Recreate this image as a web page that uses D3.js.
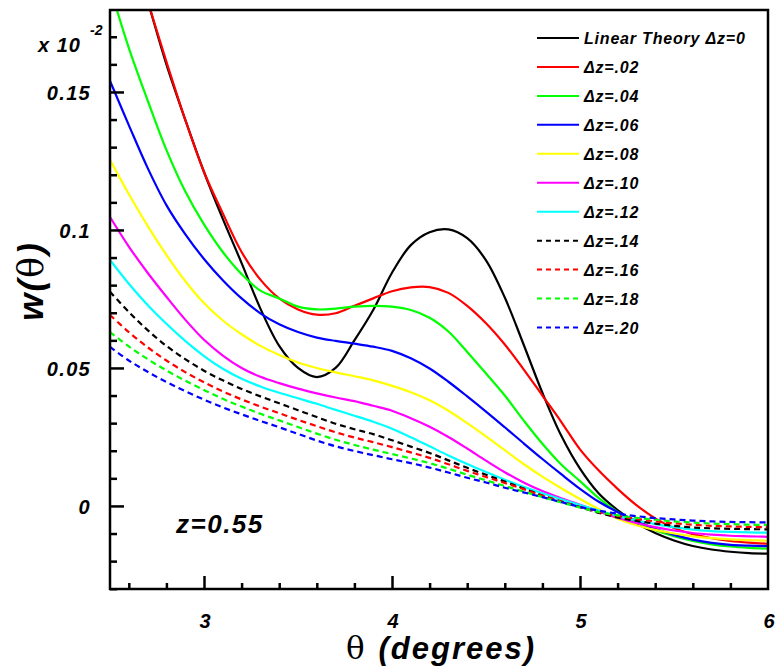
<!DOCTYPE html>
<html>
<head>
<meta charset="utf-8">
<script src="https://cdn.jsdelivr.net/npm/d3@7"></script>
<style>
    body { margin: 0; background: #fff; }
    svg { display: block; }
    text { font-family: "Liberation Sans", Arial, sans-serif; }
</style>
</head>
<body>
<div id="chart"></div>
<script>

// theta grid (degrees)
var theta = [2.5, 2.6, 2.7, 2.8, 2.9, 3.0, 3.1, 3.2, 3.3, 3.4, 3.5, 3.6, 3.7, 3.8, 3.9, 4.0,
    4.1, 4.2, 4.3, 4.4, 4.5, 4.6, 4.7, 4.8, 4.9, 5.0, 5.1, 5.2, 5.3, 5.4, 5.5, 5.6, 5.7, 5.8, 5.9, 6.0];

// w(theta) values, units of 10^-2
var linear = [0.235, 0.205, 0.183, 0.160, 0.140, 0.121, 0.104, 0.088, 0.0715, 0.058, 0.050, 0.0467, 0.050,
    0.060, 0.071, 0.0845, 0.0945, 0.0992, 0.1002, 0.097, 0.089, 0.0755, 0.0585, 0.041, 0.0255, 0.0135,
    0.0045, -0.0015, -0.0062, -0.0098, -0.0125, -0.0145, -0.0158, -0.0166, -0.0171, -0.0173];
var dz02 = [0.235, 0.205, 0.183, 0.161, 0.140, 0.121, 0.106, 0.092, 0.082, 0.0752, 0.0712, 0.0693, 0.0698,
    0.0725, 0.0752, 0.0778, 0.0792, 0.0793, 0.0772, 0.0725, 0.0662, 0.0585, 0.0495, 0.040, 0.0305, 0.0205,
    0.0128, 0.0062, 0.0003, -0.0045, -0.0080, -0.0102, -0.0117, -0.0127, -0.0133, -0.0137];
var dz04 = [0.188, 0.166, 0.147, 0.129, 0.114, 0.102, 0.092, 0.084, 0.078, 0.0752, 0.0722, 0.0712, 0.0715,
    0.0722, 0.0725, 0.0722, 0.0710, 0.0682, 0.0632, 0.0558, 0.048, 0.040, 0.031, 0.0225, 0.015, 0.009,
    0.0028, -0.0022, -0.006, -0.0088, -0.011, -0.0127, -0.0139, -0.0147, -0.0152, -0.0155];
var dz06 = [0.154, 0.138, 0.1225, 0.109, 0.0985, 0.0895, 0.0818, 0.0752, 0.0698, 0.0658, 0.0630, 0.0610, 0.0598,
    0.0588, 0.0577, 0.0562, 0.0535, 0.0498, 0.0450, 0.0397, 0.0342, 0.0285, 0.0227, 0.0170, 0.0115, 0.0062,
    0.0015, -0.0022, -0.0055, -0.0083, -0.0105, -0.0122, -0.0134, -0.0141, -0.0144, -0.0146];
var dz08 = [0.1254, 0.1130, 0.1015, 0.091, 0.0815, 0.0735, 0.0672, 0.0622, 0.0580, 0.0547, 0.0520, 0.0500, 0.0484,
    0.0470, 0.0455, 0.0435, 0.0412, 0.0383, 0.0345, 0.0300, 0.0252, 0.0202, 0.0152, 0.0106, 0.0064, 0.0025,
    -0.0012, -0.0046, -0.0070, -0.0087, -0.0100, -0.0110, -0.0117, -0.0121, -0.0124, -0.0126];
var dz10 = [0.1047, 0.094, 0.0845, 0.0758, 0.0675, 0.0602, 0.0545, 0.0500, 0.0468, 0.0445, 0.0425, 0.0408, 0.0393,
    0.038, 0.0363, 0.0345, 0.0318, 0.0287, 0.025, 0.0208, 0.0164, 0.0122, 0.0085, 0.0054, 0.0028, 0.0004,
    -0.0020, -0.0043, -0.0062, -0.0077, -0.0089, -0.0098, -0.0104, -0.0108, -0.011, -0.0112];
var dz12 = [0.0891, 0.0805, 0.0728, 0.066, 0.0598, 0.0543, 0.0497, 0.0461, 0.0433, 0.041, 0.039, 0.037, 0.0348,
    0.0327, 0.0305, 0.028, 0.0249, 0.0216, 0.0183, 0.0152, 0.0123, 0.0095, 0.0069, 0.0046, 0.0024, 0.0003,
    -0.0017, -0.0036, -0.0052, -0.0066, -0.0077, -0.0086, -0.0091, -0.0094, -0.0096, -0.0097];
var dz14 = [0.0776, 0.0703, 0.0637, 0.0580, 0.0532, 0.0490, 0.0455, 0.0424, 0.0397, 0.0372, 0.0347, 0.0322, 0.0298,
    0.0278, 0.026, 0.0238, 0.0215, 0.0192, 0.0165, 0.0138, 0.0113, 0.0088, 0.0063, 0.0038, 0.0016, -0.0004,
    -0.0025, -0.0042, -0.0054, -0.0064, -0.0072, -0.0078, -0.0081, -0.0083, -0.0084, -0.0085];
var dz16 = [0.0692, 0.063, 0.0575, 0.0527, 0.0485, 0.0448, 0.0415, 0.0386, 0.036, 0.0336, 0.0312, 0.0289, 0.0267,
    0.0248, 0.0231, 0.0213, 0.0194, 0.0174, 0.0151, 0.0127, 0.0105, 0.0083, 0.0061, 0.0037, 0.0016, -0.0004,
    -0.0022, -0.0036, -0.0047, -0.0056, -0.0063, -0.0068, -0.0072, -0.0074, -0.0076, -0.0077];
var dz18 = [0.063, 0.0578, 0.0532, 0.0491, 0.0454, 0.0420, 0.0388, 0.036, 0.0334, 0.031, 0.0286, 0.0262, 0.024,
    0.0221, 0.0204, 0.0188, 0.0172, 0.0155, 0.0135, 0.0113, 0.0093, 0.0072, 0.0052, 0.0032, 0.0013, -0.0006,
    -0.0022, -0.0034, -0.0043, -0.0050, -0.0056, -0.006, -0.0064, -0.0066, -0.0068, -0.0069];
var dz20 = [0.0576, 0.0527, 0.0486, 0.0449, 0.0416, 0.0385, 0.0357, 0.0332, 0.0308, 0.0285, 0.0261, 0.0237, 0.0216,
    0.0199, 0.0184, 0.0169, 0.0155, 0.0139, 0.0121, 0.0102, 0.0085, 0.0066, 0.0049, 0.0032, 0.0014, -0.0004,
    -0.0017, -0.0028, -0.0037, -0.0044, -0.0049, -0.0053, -0.0056, -0.0058, -0.0059, -0.006];

var seriesNames = ["Linear Theory \u0394z=0", "\u0394z=.02", "\u0394z=.04", "\u0394z=.06", "\u0394z=.08", "\u0394z=.10",
    "\u0394z=.12", "\u0394z=.14", "\u0394z=.16", "\u0394z=.18", "\u0394z=.20"];
var seriesValues = [linear, dz02, dz04, dz06, dz08, dz10, dz12, dz14, dz16, dz18, dz20];
var seriesColors = ["#000000", "#ff0000", "#00ff00", "#0000ff", "#ffff00", "#ff00ff",
    "#00ffff", "#000000", "#ff0000", "#00ff00", "#0000ff"];
var seriesDashed = [false, false, false, false, false, false, false, true, true, true, true];

var xMajor = [3, 4, 5, 6];
var yMajor = [0, 0.05, 0.1, 0.15];


var width = 775,
    height = 670;

var svg = d3.select("#chart").append("svg")
    .attr("width", width)
    .attr("height", height);

var x = d3.scaleLinear().domain([2.5, 6]).range([110, 768]);
var y = d3.scaleLinear().domain([-0.0301, 0.1797]).range([589, 10]);

svg.append("clipPath")
    .attr("id", "plot-clip")
    .append("rect")
    .attr("x", x.range()[0])
    .attr("y", y.range()[1])
    .attr("width", x.range()[1] - x.range()[0])
    .attr("height", y.range()[0] - y.range()[1]);

var series = seriesNames.map(function(name, i) {
    return {
        name: name,
        color: seriesColors[i],
        dashed: seriesDashed[i],
        points: theta.map(function(t, j) { return [t, seriesValues[i][j]]; })
    };
});

var line = d3.line()
    .x(function(d) { return x(d[0]); })
    .y(function(d) { return y(d[1]); })
    .curve(d3.curveCatmullRom);

svg.append("g")
    .attr("clip-path", "url(#plot-clip)")
    .selectAll("path")
    .data(series)
    .enter()
    .append("path")
    .attr("d", function(d) { return line(d.points); })
    .attr("fill", "none")
    .attr("stroke", function(d) { return d.color; })
    .attr("stroke-width", 2.2)
    .attr("stroke-dasharray", function(d) { return d.dashed ? "6,4" : null; });

// frame
svg.append("rect")
    .attr("x", x.range()[0])
    .attr("y", y.range()[1])
    .attr("width", x.range()[1] - x.range()[0])
    .attr("height", y.range()[0] - y.range()[1])
    .attr("fill", "none")
    .attr("stroke", "#000")
    .attr("stroke-width", 2.5);

// y axis, ticks point inward
var yAxis = d3.axisRight(y)
    .tickValues(d3.range(-0.03, 0.1701, 0.01).map(function(v) { return Math.round(v * 100) / 100; }))
    .tickSize(7)
    .tickFormat("");

var gy = svg.append("g")
    .attr("transform", "translate(" + x.range()[0] + ",0)")
    .call(yAxis);
gy.select(".domain").remove();
gy.selectAll(".tick line")
    .attr("stroke-width", 2.5)
    .attr("x2", function(d) {
        return yMajor.indexOf(d) >= 0 ? 14 : 7;
    });

var tickFont = "italic bold 20px 'Liberation Sans'";

svg.append("g")
    .selectAll("text")
    .data(yMajor)
    .enter()
    .append("text")
    .attr("x", 91)
    .attr("y", function(d) { return y(d) + 8; })
    .attr("text-anchor", "end")
    .style("font", tickFont)
    .style("letter-spacing", "1.3px")
    .text(function(d) { return d; });

// x axis, ticks point inward
var xAxis = d3.axisTop(x)
    .tickValues(d3.range(2.6, 5.81, 0.2).map(function(v) { return Math.round(v * 10) / 10; }))
    .tickSize(6)
    .tickFormat("");

var gx = svg.append("g")
    .attr("transform", "translate(0," + y.range()[0] + ")")
    .call(xAxis);
gx.select(".domain").remove();
gx.selectAll(".tick line")
    .attr("stroke-width", 2.5)
    .attr("y2", function(d) {
        return xMajor.indexOf(d) >= 0 ? -13 : -6;
    });

svg.append("g")
    .selectAll("text")
    .data(xMajor)
    .enter()
    .append("text")
    .attr("x", function(d) { return x(d) + 1; })
    .attr("y", 628)
    .attr("text-anchor", "middle")
    .style("font", tickFont)
    .text(function(d) { return d; });

// exponent label
svg.append("text")
    .attr("x", 38)
    .attr("y", 52)
    .style("font", tickFont)
    .style("letter-spacing", "1px")
    .text("x 10");
svg.append("text")
    .attr("x", 90)
    .attr("y", 35)
    .style("font", "italic bold 14px 'Liberation Sans'")
    .text("-2");

// axis titles
var yTitle = svg.append("text")
    .attr("transform", "translate(43,281) rotate(-90)")
    .attr("text-anchor", "middle")
    .style("font", "italic bold 35px 'Liberation Sans'")
    .style("letter-spacing", "2px");
yTitle.append("tspan").text("w(");
yTitle.append("tspan").style("font", "normal 35px 'DejaVu Serif'").text("\u03b8");
yTitle.append("tspan").text(")");

var xTitle = svg.append("text")
    .attr("x", 441)
    .attr("y", 659)
    .attr("text-anchor", "middle")
    .style("font", "italic bold 31px 'Liberation Sans'")
    .style("letter-spacing", "2px");
xTitle.append("tspan").style("font", "normal 31px 'DejaVu Serif'").text("\u03b8 ");
xTitle.append("tspan").text("(degrees)");

svg.append("text")
    .attr("x", 176)
    .attr("y", 533)
    .style("font", "italic bold 26px 'Liberation Sans'")
    .style("letter-spacing", "1.5px")
    .text("z=0.55");

// legend
var legend = svg.append("g")
    .attr("transform", "translate(537, 38)")
    .selectAll("g")
    .data(series)
    .enter()
    .append("g")
    .attr("transform", function(d, i) { return "translate(0," + (28.95 * i) + ")"; });

legend.append("line")
    .attr("x1", 0)
    .attr("x2", 42)
    .attr("stroke", function(d) { return d.color; })
    .attr("stroke-width", 2)
    .attr("stroke-dasharray", function(d) { return d.dashed ? "5,4" : null; });

legend.append("text")
    .attr("x", 47)
    .attr("y", 6)
    .style("font", "italic bold 16px 'Liberation Sans'")
    .style("letter-spacing", "0.8px")
    .text(function(d) { return d.name; });

</script>
</body>
</html>
